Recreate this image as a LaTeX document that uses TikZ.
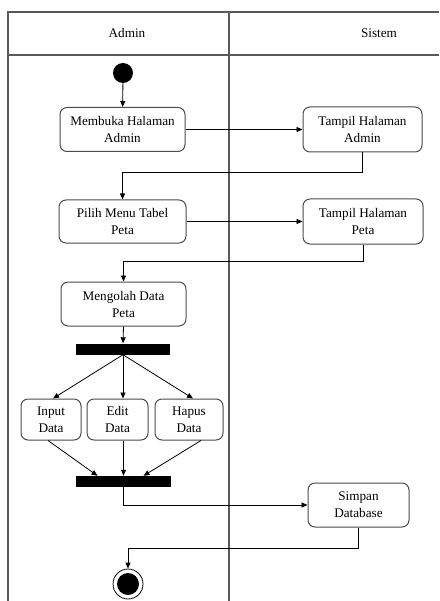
\documentclass[tikz,border=0pt]{standalone}
\usepackage{fontspec}
\setmainfont{Liberation Serif}
\usetikzlibrary{arrows.meta,calc}
\begin{document}
\begin{tikzpicture}[x=1pt,y=-1pt,
  lane/.style={draw=black!65,line width=1.3pt},
  act/.style={draw=black!70,line width=1pt,rounded corners=7pt,fill=white,
    align=center,inner sep=0pt,font=\fontsize{13.2}{17}\selectfont},
  bar/.style={fill=black,draw=none,inner sep=0pt},
  flow/.style={draw=black,line width=0.8pt,-{Triangle[length=6pt,width=5pt]}},
  lbl/.style={font=\fontsize{13.2}{15}\selectfont}]
\useasboundingbox (0,0) rectangle (439,601);

% swimlane frame
\draw[lane] (439,12) -- (8,12) -- (8,601);
\draw[lane] (8,55) -- (439,55);
\draw[lane] (229,12) -- (229,601);
\node[lbl] (hAdmin) at (127,33) {Admin};
\node[lbl] (hSistem) at (379,33) {Sistem};

% initial and final states
\node[circle,fill=black,minimum size=20pt,inner sep=0pt] (start) at (123,73) {};
\node[circle,draw=black,line width=0.8pt,minimum size=30pt,inner sep=0pt] (stop) at (128,584) {};
\fill (stop.center) circle (11);

% activities
\node[act,minimum width=125pt,minimum height=44pt] (b1) at (122.5,129.5) {Membuka Halaman\\Admin};
\node[act,minimum width=119pt,minimum height=45pt] (b2) at (362.5,129.5) {Tampil Halaman\\Admin};
\node[act,minimum width=127pt,minimum height=43pt] (b3) at (122.5,221.5) {Pilih  Menu Tabel\\Peta};
\node[act,minimum width=120pt,minimum height=45pt] (b4) at (363,221.5) {Tampil Halaman\\Peta};
\node[act,minimum width=125pt,minimum height=44pt] (b5) at (123.5,304) {Mengolah Data\\Peta};
\node[bar,minimum width=94pt,minimum height=11pt] (fork) at (123,349) {};
\node[act,minimum width=60pt,minimum height=41pt] (inp) at (51,419.5) {Input\\Data};
\node[act,minimum width=61pt,minimum height=41pt] (edt) at (117.5,419.5) {Edit\\Data};
\node[act,minimum width=68pt,minimum height=41pt] (hps) at (189,419.5) {Hapus\\Data};
\node[bar,minimum width=95pt,minimum height=11pt] (join) at (123.5,481.5) {};
\node[act,minimum width=101pt,minimum height=44pt] (sim) at (358.5,505) {Simpan\\Database};

% control flow
\draw[flow] (start) -- (b1);
\draw[flow] (b1.east) -- (b2.west);
\draw[flow] (b2.south) -- ++(0,20) -| (b3.north);
\draw[flow] (b3.east) -- (b4.west);
\draw[flow] (b4.south) -- ++(0,17) -| (b5.north);
\draw[flow] (b5.south) -- (fork.north);
\draw[flow] (fork.south) -- ($(inp.north)+(2,0)$);
\draw[flow] (fork.south) -- (fork.south |- edt.north);
\draw[flow] (fork.south) -- ($(hps.north)+(4,0)$);
\draw[flow] ($(inp.south)+(-3,0)$) -- ($(join.north)+(-26,0)$);
\draw[flow] (join.north |- edt.south) -- (join.north);
\draw[flow] ($(hps.south)+(12,0)$) -- ($(join.north)+(20,0)$);
\draw[flow] (join.south) |- (sim.west);
\draw[flow] (sim.south) -- ++(0,21) -| (stop.north);
\end{tikzpicture}
\end{document}
